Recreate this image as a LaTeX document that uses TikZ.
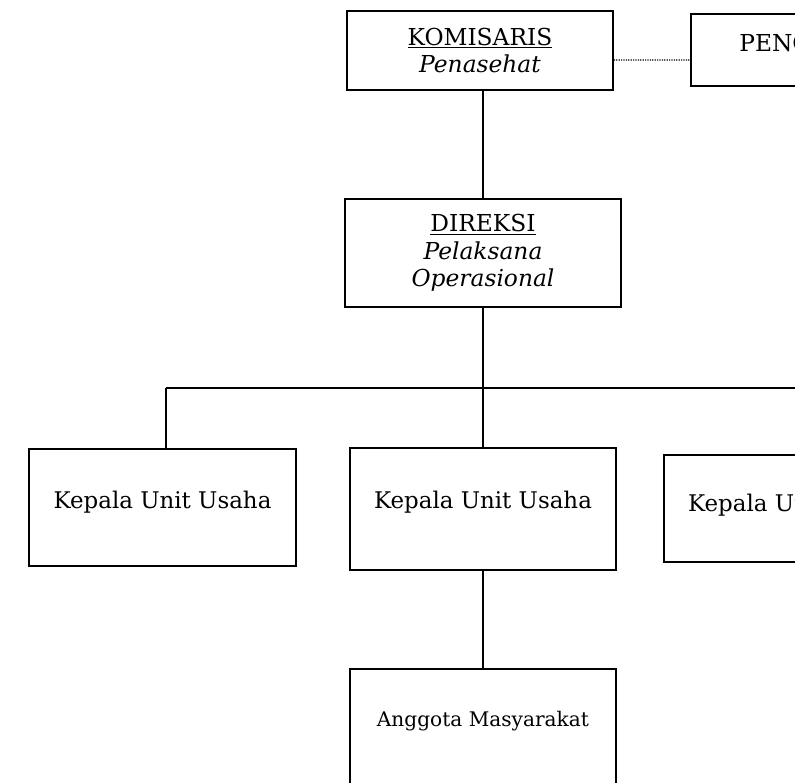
\documentclass[tikz,border=0pt]{standalone}
\usepackage{fontspec}
\setmainfont{DejaVu Serif}
\begin{document}
\begin{tikzpicture}[x=0.75pt,y=-0.75pt,
  box/.style={draw, line width=1.25pt, align=center, inner sep=0pt},
  conn/.style={line width=1.25pt},
  dotline/.style={line width=0.9pt, dash pattern=on 0.9pt off 0.9pt},
  big/.style={font=\fontsize{17.5}{20.5}\selectfont},
  mid/.style={font=\fontsize{17.2}{20}\selectfont, text height=13pt},
  small/.style={font=\fontsize{15.1}{18}\selectfont, text height=11.5pt}]
\useasboundingbox (0,0) rectangle (795,782);
% top row
\node[box,big,minimum width=266*0.75pt,minimum height=79*0.75pt] (kom) at (480,50.5)
  {\underline{KOMISARIS}\\\textit{Penasehat}};
\node[box,big,minimum width=240*0.75pt,minimum height=72*0.75pt,text height=12.8pt,text depth=10.5pt] (peng) at (811,50)
  {PENGAWAS};
\draw[dotline] ([yshift=-7.1pt]kom.east) -- ([yshift=-7.5pt]peng.west);
% direksi
\node[box,big,minimum width=276*0.75pt,minimum height=108*0.75pt] (dir) at (483,253)
  {\underline{DIREKSI}\\\textit{Pelaksana}\\\textit{Operasional}};
\draw[conn] (dir.north |- kom.south) -- (dir.north);
% unit heads
\node[box,mid,minimum width=267*0.75pt,minimum height=117*0.75pt,text depth=10.8pt] (k1) at (162.5,507.5)
  {Kepala Unit Usaha};
\node[box,mid,minimum width=266*0.75pt,minimum height=122*0.75pt,text depth=14.5pt] (k2) at (483,509)
  {Kepala Unit Usaha};
\node[box,mid,minimum width=266*0.75pt,minimum height=107*0.75pt,text depth=7.8pt] (k3) at (797,508.5)
  {Kepala Unit Usaha};
\coordinate (busL) at (166,388);
\coordinate (busR) at (797,388);
\draw[conn] (busL) -- (busR);
\draw[conn] (dir.south) -- (k2.north);
\draw[conn] (busL) -- (busL |- k1.north);
\draw[conn] (busR) -- (busR |- k3.north);
% members
\node[box,small,minimum width=266*0.75pt,minimum height=120*0.75pt,text depth=16pt] (ang) at (483,729)
  {Anggota Masyarakat};
\draw[conn] (k2.south) -- (ang.north);
\end{tikzpicture}
\end{document}
